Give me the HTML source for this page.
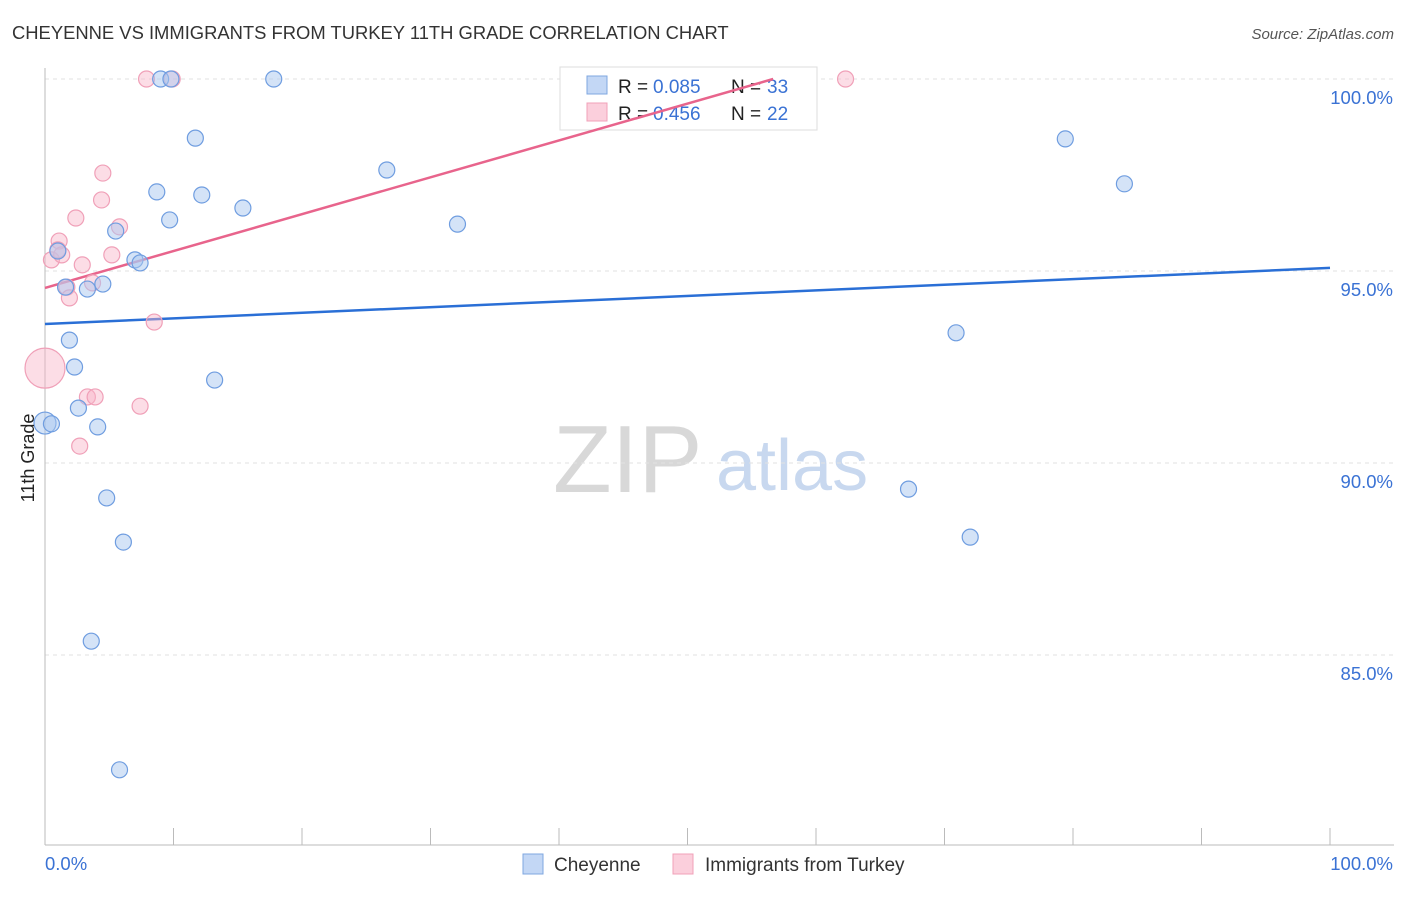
<!DOCTYPE html>
<html><head><meta charset="utf-8"><style>
body{margin:0;background:#fff;font-family:"Liberation Sans",sans-serif}
svg text{font-family:"Liberation Sans",sans-serif}
</style></head><body>
<svg id="chart" width="1406" height="892" xmlns="http://www.w3.org/2000/svg">
<text x="12" y="39" font-size="18.4" fill="#333">CHEYENNE VS IMMIGRANTS FROM TURKEY 11TH GRADE CORRELATION CHART</text>
<text x="1394" y="39" font-size="15" fill="#555" font-style="italic" text-anchor="end">Source: ZipAtlas.com</text>
<g>
<text x="553" y="492" font-size="96" fill="#d8d8d8" font-family="Liberation Serif,serif">ZIP</text>
<text x="716" y="490" font-size="72" fill="#c8d8ef">atlas</text>
</g>
<g id="grid"></g>
<g id="axes"></g>
<g>
<rect x="560" y="67" width="257" height="63" fill="#fff" stroke="#ddd"/>
<rect x="587" y="76" width="20" height="18" fill="#c3d7f5" stroke="#7fa7e0"/>
<rect x="587" y="103" width="20" height="18" fill="#fbcfdc" stroke="#f0a0b8"/>
<text x="618" y="93" font-size="19" fill="#222">R =</text>
<text x="653" y="93" font-size="19" fill="#3a72d4">0.085</text>
<text x="731" y="93" font-size="19" fill="#222">N =</text>
<text x="767" y="93" font-size="19" fill="#3a72d4">33</text>
<text x="618" y="120" font-size="19" fill="#222">R =</text>
<text x="653" y="120" font-size="19" fill="#3a72d4">0.456</text>
<text x="731" y="120" font-size="19" fill="#222">N =</text>
<text x="767" y="120" font-size="19" fill="#3a72d4">22</text>
</g>
<g id="lines"></g>
<g id="pts"></g>
<text transform="translate(34,458) rotate(-90)" font-size="18" fill="#222" text-anchor="middle">11th Grade</text>
<g>
<rect x="523" y="854" width="20" height="20" fill="#c3d7f5" stroke="#7fa7e0"/>
<text x="554" y="871" font-size="19" fill="#333">Cheyenne</text>
<rect x="673" y="854" width="20" height="20" fill="#fbcfdc" stroke="#f0a0b8"/>
<text x="705" y="871" font-size="19" fill="#333">Immigrants from Turkey</text>
</g>
</svg>
<script>
const yTicks=[100,95,90,85];
const yTickLabels=["100.0%","95.0%","90.0%","85.0%"];
const xLabels=["0.0%","100.0%"];
const blueX=[9.0,9.8,17.8,11.7,79.4,84.0,26.6,8.7,12.2,15.4,9.7,32.1,5.5,1.0,7.0,7.4,1.6,3.3,4.5,1.9,2.3,13.2,2.6,0.0,0.5,4.1,4.8,6.1,3.6,5.8,70.9,67.2,72.0];
const blueY=[100,100,100,98.46,98.44,97.27,97.63,97.06,96.98,96.64,96.33,96.22,96.04,95.52,95.29,95.21,94.58,94.53,94.66,93.20,92.50,92.16,91.43,91.04,91.02,90.94,89.09,87.94,85.36,82.01,93.39,89.32,88.07];
const blueR=[8,8,8,8,8,8,8,8,8,8,8,8,8,8,8,8,8,8,8,8,8,8,8,11,8,8,8,8,8,8,8,8,8];
const pinkX=[7.9,9.9,62.3,4.5,4.4,2.4,5.8,1.1,0.5,1.3,5.2,2.9,1.7,1.9,8.5,0,3.3,3.9,7.4,2.7,1.0,3.7];
const pinkY=[100,100,100,97.55,96.85,96.38,96.15,95.78,95.29,95.42,95.42,95.16,94.58,94.30,93.67,92.47,91.72,91.72,91.48,90.44,95.55,94.69];
const pinkR=[8,8,8,8,8,8,8,8,8,8,8,8,8,8,8,20,8,8,8,8,8,8];
const blueLine=[93.62,95.08];
const pinkLine=[94.56,0.096];
const NS="http://www.w3.org/2000/svg";
const sx=v=>45+v*12.85, sy=v=>79+(100-v)*38.4;
function mk(t,a,p){const e=document.createElementNS(NS,t);for(const k in a)e.setAttribute(k,a[k]);p.appendChild(e);return e;}
const grid=document.getElementById('grid'),axes=document.getElementById('axes');
yTicks.forEach((t,i)=>{
 const l=mk('line',{x1:45,x2:1394,y1:sy(t),y2:sy(t),stroke:'#e2e2e2','stroke-dasharray':'4,4'},grid);
 
 
 const tx=mk('text',{x:1393,y:sy(t)+25,'font-size':18.5,fill:'#3a72d4','text-anchor':'end'},axes);
 tx.textContent=yTickLabels[i];
 
 
});
mk('line',{x1:45,x2:45,y1:68,y2:845,stroke:'#bbb'},axes);
mk('line',{x1:45,x2:1394,y1:845,y2:845,stroke:'#bbb'},axes);
for(let i=0;i<=10;i++){const x=sx(i*10);const t=mk('line',{x1:x,x2:x,y1:828,y2:845,stroke:'#bbb'},axes);}
const xl0=mk('text',{x:45,y:870,'font-size':18.5,fill:'#3a72d4'},axes);xl0.textContent=xLabels[0];


const xl1=mk('text',{x:1393,y:870,'font-size':18.5,fill:'#3a72d4','text-anchor':'end'},axes);xl1.textContent=xLabels[1];


const pts=document.getElementById('pts');
pinkX.forEach((v,i)=>{const c=mk('circle',{cx:sx(v),cy:sy(pinkY[i]),r:pinkR[i],fill:'rgba(248,180,200,0.45)',stroke:'#f0a0b8','stroke-width':1.2},pts);
 
 });
blueX.forEach((v,i)=>{const c=mk('circle',{cx:sx(v),cy:sy(blueY[i]),r:blueR[i],fill:'rgba(170,200,240,0.5)',stroke:'#6f9de0','stroke-width':1.2},pts);
 
 });
const lines=document.getElementById('lines');
const bl=mk('line',{x1:sx(0),y1:sy(blueLine[0]),x2:sx(100),y2:sy(blueLine[1]),stroke:'#2a6fd6','stroke-width':2.5},lines);


const xEnd=(100-pinkLine[0])/pinkLine[1];
const pl=mk('line',{x1:sx(0),y1:sy(pinkLine[0]),x2:sx(xEnd),y2:sy(100),stroke:'#e8648c','stroke-width':2.5},lines);


</script>
</body></html>
